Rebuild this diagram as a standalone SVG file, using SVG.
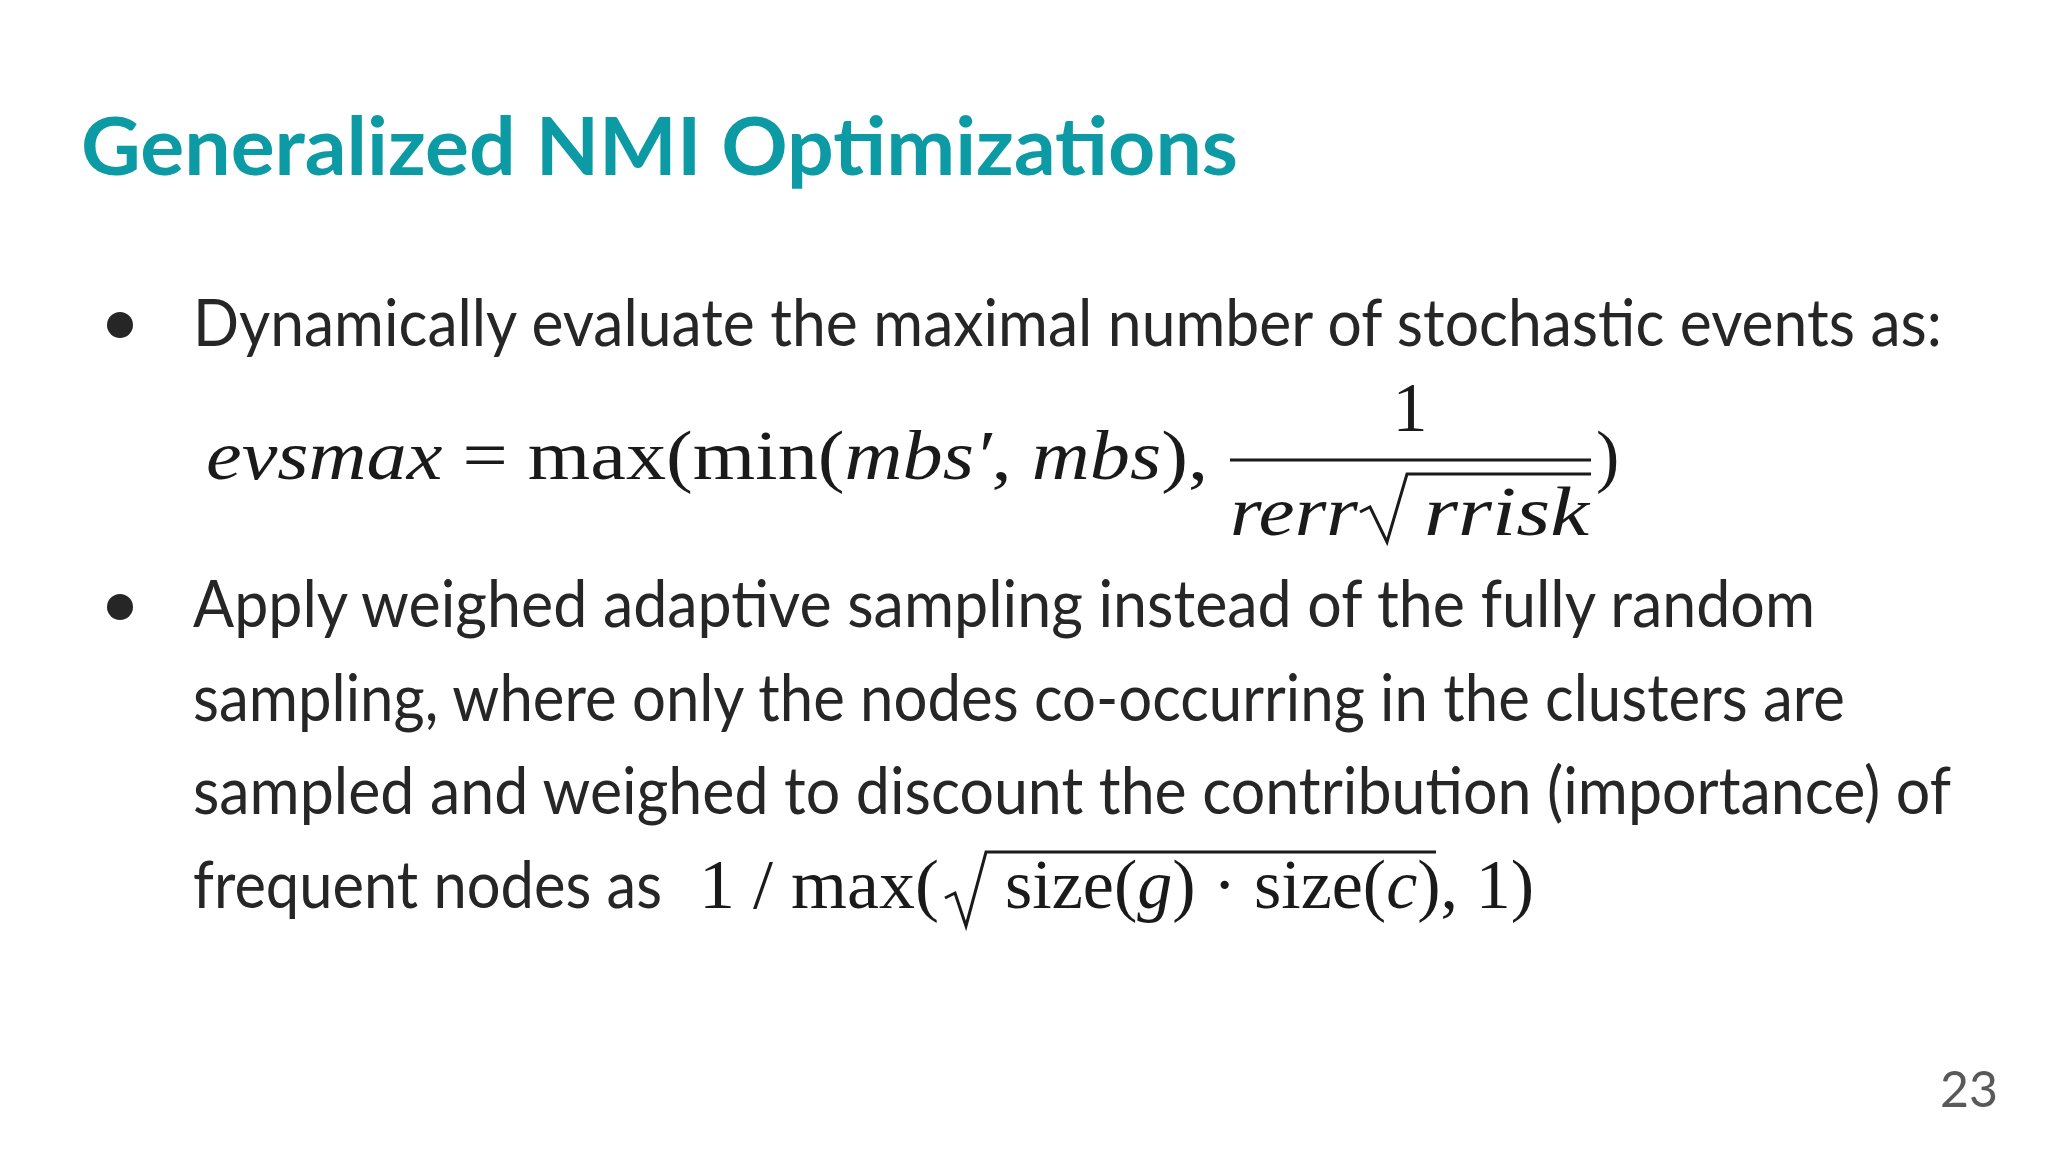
<svg xmlns="http://www.w3.org/2000/svg" width="2048" height="1152" viewBox="0 0 2048 1152">
<style>
.t{font-family:Lato,"Liberation Sans",sans-serif;font-size:66px;fill:#262626}
.m{font-family:"Liberation Serif",serif;font-size:70px;fill:#1a1a1a}
.i{font-style:italic}
</style>
<rect width="2048" height="1152" fill="#fff"/>
<g id="title"><text x="81" y="175" font-family="Lato,'Liberation Sans',sans-serif" font-weight="bold" font-size="80" fill="#0c9aa4" textLength="1157" lengthAdjust="spacingAndGlyphs">Generalized NMI Optimizations</text></g>
<g id="bullet1">
<circle cx="120" cy="325" r="13" fill="#262626"/>
<text class="t" x="193" y="346" textLength="1749" lengthAdjust="spacingAndGlyphs">Dynamically evaluate the maximal number of stochastic events as:</text>
</g>
<g id="formula1">
<text class="m" x="206" y="479" textLength="1002" lengthAdjust="spacingAndGlyphs"><tspan class="i">evsmax</tspan> = max(min(<tspan class="i">mbs′</tspan>, <tspan class="i">mbs</tspan>),</text>
<text class="m" x="1410" y="431" text-anchor="middle">1</text>
<line x1="1230" y1="460" x2="1591" y2="460" stroke="#1a1a1a" stroke-width="3"/>
<text class="m i" x="1230" y="535" textLength="128" lengthAdjust="spacingAndGlyphs">rerr</text>
<path d="M1360 512 L1370 507 L1387 542 L1407 474 L1591 474" fill="none" stroke="#1a1a1a" stroke-width="3"/>
<text class="m i" x="1424" y="535" textLength="165" lengthAdjust="spacingAndGlyphs">rrisk</text>
<text class="m" x="1596" y="479">)</text>
</g>
<g id="bullet2">
<circle cx="120" cy="607" r="13" fill="#262626"/>
<text class="t" x="193" y="627" textLength="1622" lengthAdjust="spacingAndGlyphs">Apply weighed adaptive sampling instead of the fully random</text>
<text class="t" x="193" y="721" textLength="1652" lengthAdjust="spacingAndGlyphs">sampling, where only the nodes co-occurring in the clusters are</text>
<text class="t" x="193" y="814" textLength="1758" lengthAdjust="spacingAndGlyphs">sampled and weighed to discount the contribution (importance) of</text>
<text class="t" x="193" y="908" textLength="469" lengthAdjust="spacingAndGlyphs">frequent nodes as</text>
</g>
<g id="formula2">
<text class="m" x="699" y="908" textLength="240" lengthAdjust="spacingAndGlyphs">1 / max(</text>
<path d="M945 898 L955 893 L966 926 L986 852 L1436 852" fill="none" stroke="#1a1a1a" stroke-width="3"/>
<text class="m" x="1005" y="908" textLength="529" lengthAdjust="spacingAndGlyphs">size(<tspan class="i">g</tspan>) · size(<tspan class="i">c</tspan>), 1)</text>
</g>
<g id="page"><text x="1998" y="1107" text-anchor="end" font-family="Lato,'Liberation Sans',sans-serif" font-size="50" fill="#595959">23</text></g>
</svg>
